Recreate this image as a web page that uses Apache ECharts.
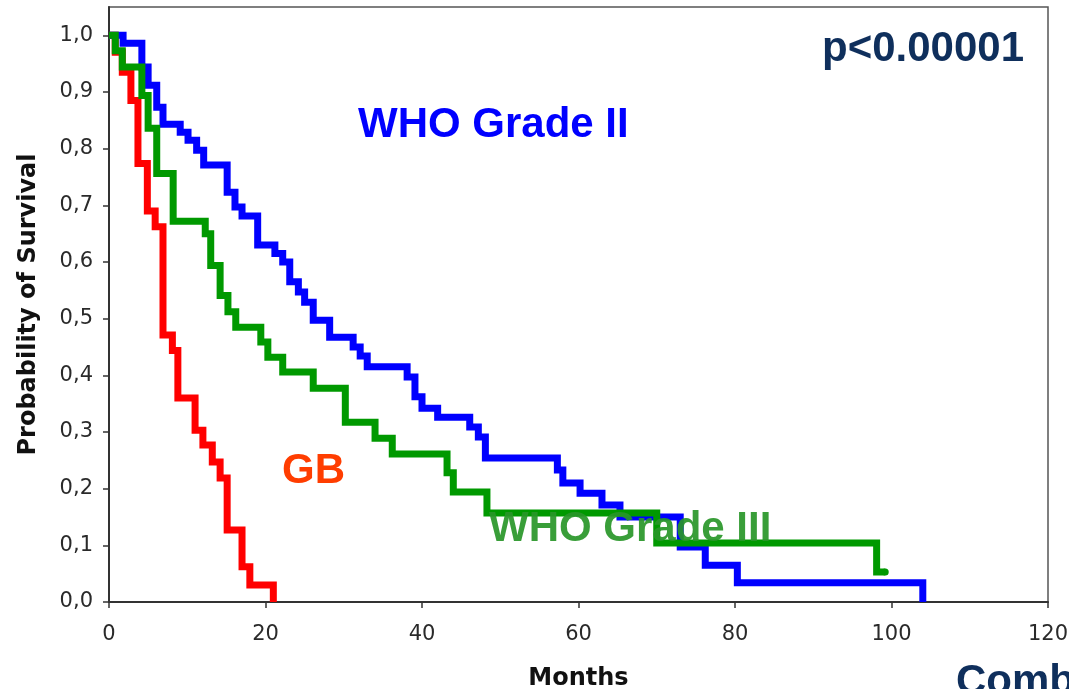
<!DOCTYPE html>
<html>
<head>
<meta charset="utf-8">
<script src="https://cdn.jsdelivr.net/npm/echarts@6/dist/echarts.min.js"></script>
<style>
html,body{margin:0;padding:0;background:#fff;}
#chart{width:1069px;height:689px;}
</style>
</head>
<body>
<div id="chart"></div>
<script>
// Kaplan-Meier step values (months, survival probability)
const g2Months   = [0, 1.8, 4.2, 5.0, 6.1, 6.9, 9.1, 10.1, 11.2, 12.1, 15.1, 16.1, 17.0, 19.0, 21.2, 22.2, 23.1, 24.2, 25.0, 26.1, 28.2, 31.2, 32.1, 33.0, 38.1, 39.1, 40.0, 42.0, 46.1, 47.2, 48.1, 57.3, 58.0, 60.2, 63.0, 65.3, 73.0, 76.2, 80.3, 104.0];
const g2Survival = [1.0, 0.986, 0.944, 0.912, 0.873, 0.843, 0.829, 0.815, 0.797, 0.771, 0.723, 0.697, 0.681, 0.630, 0.615, 0.600, 0.565, 0.547, 0.529, 0.497, 0.467, 0.450, 0.434, 0.415, 0.397, 0.362, 0.342, 0.326, 0.309, 0.291, 0.254, 0.233, 0.210, 0.192, 0.171, 0.150, 0.097, 0.065, 0.034, 0.0];

const g3Months   = [0, 0.8, 1.7, 4.2, 5.0, 6.1, 8.2, 12.3, 13.0, 14.2, 15.2, 16.2, 19.4, 20.3, 22.2, 26.1, 30.2, 34.0, 36.2, 43.2, 44.0, 48.3, 70.0, 98.1, 99.2];
const g3Survival = [1.0, 0.973, 0.944, 0.894, 0.836, 0.756, 0.672, 0.650, 0.594, 0.541, 0.512, 0.485, 0.459, 0.432, 0.406, 0.377, 0.317, 0.289, 0.261, 0.228, 0.194, 0.157, 0.104, 0.053, 0.053];

const gbMonths   = [0, 0.8, 1.7, 2.8, 3.7, 4.9, 5.9, 6.9, 8.1, 8.8, 11.0, 12.0, 13.2, 14.2, 15.1, 17.0, 18.0, 21.0];
const gbSurvival = [1.0, 0.97, 0.935, 0.885, 0.774, 0.690, 0.662, 0.471, 0.444, 0.360, 0.303, 0.277, 0.247, 0.219, 0.127, 0.062, 0.030, 0.0];

const xTicks = [0, 20, 40, 60, 80, 100, 120];
const yTicks = [0, 0.1, 0.2, 0.3, 0.4, 0.5, 0.6, 0.7, 0.8, 0.9, 1.0];

const pairs = (xs, ys) => xs.map((x, i) => [x, ys[i]]);

// green curve ends with a rounded tip on its last point
const g3Data = pairs(g3Months, g3Survival).map((p, i, arr) =>
  i === arr.length - 1 ? {value: p, symbol: 'circle', symbolSize: 7} : {value: p, symbol: 'none'});

const chart = echarts.init(document.getElementById('chart'), null, {renderer: 'canvas'});

const tickFont = '"DejaVu Sans", Verdana, sans-serif';
const annFont = '"Liberation Sans", Arial, sans-serif';

chart.setOption({
  animation: false,
  backgroundColor: '#ffffff',
  grid: {
    left: 109, right: 21, top: 7, bottom: 87,
    show: true, borderColor: '#555', borderWidth: 1.5,
    containLabel: false, outerBoundsMode: 'none'
  },
  xAxis: {
    type: 'value',
    min: xTicks[0], max: xTicks[xTicks.length - 1], interval: xTicks[1] - xTicks[0],
    name: 'Months', nameLocation: 'middle', nameGap: 65,
    nameTextStyle: {fontFamily: tickFont, fontWeight: 'bold', fontSize: 24, color: '#111'},
    axisLine: {show: true, lineStyle: {color: '#333', width: 2}},
    axisTick: {show: true, length: 6, lineStyle: {color: '#333', width: 1.5}},
    axisLabel: {fontFamily: tickFont, fontSize: 21, color: '#2a2a2a', margin: 22},
    splitLine: {show: false}
  },
  yAxis: {
    type: 'value',
    min: 0, max: 1.05,
    name: 'Probability of Survival', nameLocation: 'middle', nameGap: 68, nameRotate: 90,
    nameTextStyle: {fontFamily: tickFont, fontWeight: 'bold', fontSize: 24, color: '#111'},
    axisLine: {show: true, lineStyle: {color: '#333', width: 2}},
    axisTick: {show: true, length: 6, lineStyle: {color: '#333', width: 1.5}, customValues: yTicks},
    axisLabel: {
      fontFamily: tickFont, fontSize: 21, color: '#2a2a2a', margin: 16,
      customValues: yTicks,
      formatter: v => v.toFixed(1).replace('.', ',')
    },
    splitLine: {show: false}
  },
  series: [
    {
      name: 'GB', type: 'line', step: 'end', showSymbol: false, symbol: 'none',
      data: pairs(gbMonths, gbSurvival),
      lineStyle: {color: '#ff0000', width: 7, join: 'miter', cap: 'butt'}
    },
    {
      name: 'WHO Grade II', type: 'line', step: 'end', showSymbol: false, symbol: 'none',
      data: pairs(g2Months, g2Survival),
      lineStyle: {color: '#0000ff', width: 7, join: 'miter', cap: 'butt'}
    },
    {
      name: 'WHO Grade III', type: 'line', step: 'end', showSymbol: true, symbol: 'none',
      data: g3Data,
      itemStyle: {color: '#009900', borderWidth: 0},
      lineStyle: {color: '#009900', width: 7, join: 'miter', cap: 'butt'}
    }
  ],
  graphic: [
    {type: 'text', left: 358, top: 104, z: 10,
     style: {text: 'WHO Grade II', font: 'bold 42px ' + annFont, fill: '#0000ff'}},
    {type: 'text', left: 822, top: 28, z: 10,
     style: {text: 'p<0.00001', font: 'bold 42px ' + annFont, fill: '#0f2f5c'}},
    {type: 'text', left: 282, top: 450, z: 10,
     style: {text: 'GB', font: 'bold 42px ' + annFont, fill: '#ff3d00'}},
    {type: 'text', left: 489, top: 508, z: 10,
     style: {text: 'WHO Grade III', font: 'bold 42px ' + annFont, fill: 'rgba(40,150,40,0.92)'}},
    {type: 'text', left: 956, top: 661, z: 10,
     style: {text: 'Combs', font: 'bold 42px ' + annFont, fill: '#0f2f5c'}}
  ]
});
</script>
</body>
</html>
